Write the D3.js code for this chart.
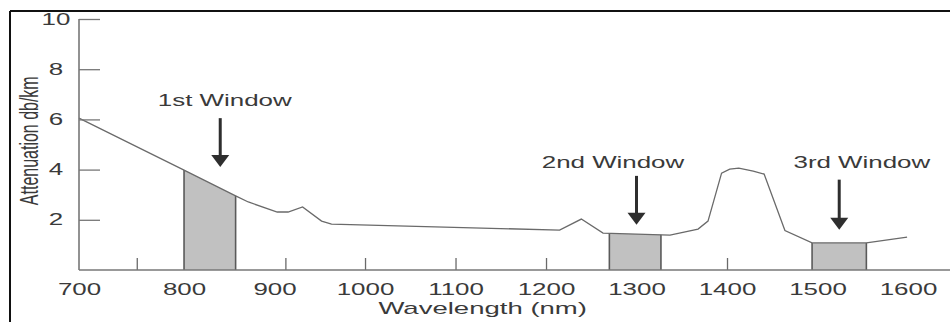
<!DOCTYPE html>
<html>
<head>
<meta charset="utf-8">
<script src="https://cdn.jsdelivr.net/npm/d3@7"></script>
<style>
  body { margin: 0; background: #fff; }
  text { font-family: "Liberation Sans", Arial, sans-serif; fill: #3a3a3a; }
</style>
</head>
<body>
<div id="chart"></div>
<script>
// attenuation curve
var wavelength  = [700, 800, 857, 871, 903, 915, 931, 952, 963, 1215, 1239, 1263, 1337, 1368, 1379, 1394, 1403, 1413, 1429, 1441, 1464, 1494, 1554, 1599];
var attenuation = [6.05, 3.98, 2.95, 2.71, 2.31, 2.31, 2.51, 1.95, 1.83, 1.59, 2.03, 1.47, 1.39, 1.63, 1.95, 3.86, 4.02, 4.06, 3.94, 3.82, 1.57, 1.08, 1.08, 1.31];

// transmission windows
var windowNames = ["1st Window", "2nd Window", "3rd Window"];
var windowStart = [800, 1270, 1494];
var windowEnd   = [857, 1327, 1554];
var arrowAt     = [840, 1300, 1524];
var arrowFrom   = [6.05, 3.75, 3.6];
var arrowTo     = [4.1, 1.8, 1.6];
var labelAt     = [845, 1274, 1549];
var labelLevel  = [6.53, 4.06, 4.06];

var xLabels = [700, 800, 900, 1000, 1100, 1200, 1300, 1400, 1500, 1600];
var xMarks  = [755, 912, 1000, 1100, 1200, 1400];
var yTicks  = [2, 4, 6, 8, 10];

var totalW = 950, totalH = 322;
var margin = {top: 19, right: 42, bottom: 52, left: 79};
var width = totalW - margin.left - margin.right,
    height = totalH - margin.top - margin.bottom;
var stretch = 1.62; // the figure's lettering is wide

var svg = d3.select("#chart").append("svg")
    .attr("width", totalW)
    .attr("height", totalH);

// frame: top and left rule
svg.append("line").attr("x1", 10).attr("x2", totalW).attr("y1", 11).attr("y2", 11)
    .attr("stroke", "#111").attr("stroke-width", 2);
svg.append("line").attr("x1", 10).attr("x2", 10).attr("y1", 11).attr("y2", totalH)
    .attr("stroke", "#111").attr("stroke-width", 2);

var g = svg.append("g").attr("transform", "translate(" + margin.left + "," + margin.top + ")");

// first 100 nm are drawn a bit wider than the rest, as in the figure
var x = d3.scaleLinear().domain([700, 800, 1600]).range([0, width * 0.1267, width]);
var y = d3.scaleLinear().domain([0, 10]).range([height, 0]);

var pts = wavelength.map(function(w, i){ return {w: w, a: attenuation[i]}; });

function attAt(w){
    var i = d3.bisectLeft(wavelength, w);
    if(i <= 0) return attenuation[0];
    if(i >= wavelength.length) return attenuation[attenuation.length - 1];
    var t = (w - wavelength[i-1]) / (wavelength[i] - wavelength[i-1]);
    return attenuation[i-1] + t * (attenuation[i] - attenuation[i-1]);
}

// shaded windows
var area = d3.area()
    .x(function(d){ return x(d.w); })
    .y0(y(0))
    .y1(function(d){ return y(d.a); });

windowNames.forEach(function(name, i){
    var s = windowStart[i], e = windowEnd[i];
    var poly = [{w: s, a: attAt(s)}]
        .concat(pts.filter(function(d){ return d.w > s && d.w < e; }))
        .concat([{w: e, a: attAt(e)}]);
    g.append("path").attr("d", area(poly)).attr("fill", "#c1c1c1");
    [s, e].forEach(function(w){
        g.append("line")
            .attr("x1", x(w)).attr("x2", x(w))
            .attr("y1", y(0)).attr("y2", y(attAt(w)))
            .attr("stroke", "#5a5a5a").attr("stroke-width", 1.6);
    });
});

// curve
var line = d3.line()
    .x(function(d){ return x(d.w); })
    .y(function(d){ return y(d.a); });
g.append("path").datum(pts)
    .attr("d", line)
    .attr("fill", "none")
    .attr("stroke", "#6a6a6a")
    .attr("stroke-width", 1.3);

// x axis: labels, then the small upward marks
var xLab = g.append("g").attr("transform", "translate(0," + height + ")")
    .call(d3.axisBottom(x).tickValues(xLabels).tickSize(0).tickPadding(14).tickFormat(d3.format("d")));
xLab.select(".domain").remove();
xLab.selectAll("text")
    .attr("transform", "scale(" + stretch + ",1)")
    .style("font-size", "16px")
    .attr("fill", "#3a3a3a");

var xTick = g.append("g").attr("transform", "translate(0," + height + ")")
    .call(d3.axisBottom(x).tickValues(xMarks).tickSize(-12).tickFormat(""));
xTick.select(".domain").remove();
xTick.selectAll("line").attr("stroke", "#6a6a6a").attr("stroke-width", 1.3);

g.append("line")
    .attr("x1", 0).attr("x2", totalW - margin.left)
    .attr("y1", height).attr("y2", height)
    .attr("stroke", "#777").attr("stroke-width", 1.6);

// y axis
var yTick = g.append("g")
    .call(d3.axisRight(y).tickValues(yTicks).tickSize(21).tickFormat(""));
yTick.select(".domain").remove();
yTick.selectAll("line").attr("stroke", "#777").attr("stroke-width", 1.3);

var yLab = g.append("g")
    .call(d3.axisLeft(y).tickValues(yTicks).tickSize(0).tickFormat(d3.format("d")));
yLab.select(".domain").remove();
yLab.selectAll("text")
    .attr("x", 0)
    .attr("text-anchor", "middle")
    .attr("transform", "translate(-23,0) scale(" + stretch + ",1)")
    .style("font-size", "16px")
    .attr("fill", "#3a3a3a");

g.append("line")
    .attr("x1", 0).attr("x2", 0)
    .attr("y1", y(0)).attr("y2", y(10))
    .attr("stroke", "#777").attr("stroke-width", 1.6);

// axis titles
svg.append("text")
    .attr("transform", "translate(" + (margin.left + x(1130)) + ",314) scale(" + stretch + ",1)")
    .attr("text-anchor", "middle")
    .style("font-size", "17px")
    .text("Wavelength (nm)");

svg.append("text")
    .attr("transform", "translate(29," + (margin.top + y(5.15)) + ") scale(" + stretch + ",1) rotate(-90)")
    .attr("text-anchor", "middle")
    .attr("dy", "0.35em")
    .style("font-size", "16px")
    .text("Attenuation db/km");

// window labels and arrows
windowNames.forEach(function(name, i){
    g.append("text")
        .attr("transform", "translate(" + x(labelAt[i]) + "," + y(labelLevel[i]) + ") scale(" + stretch + ",1)")
        .attr("text-anchor", "middle")
        .style("font-size", "16px")
        .text(name);

    var ax = x(arrowAt[i]), top = y(arrowFrom[i]), tip = y(arrowTo[i]);
    g.append("line")
        .attr("x1", ax).attr("x2", ax)
        .attr("y1", top).attr("y2", tip - 10)
        .attr("stroke", "#2e2e2e").attr("stroke-width", 3);
    g.append("path")
        .attr("d", "M" + (ax - 9) + "," + (tip - 12) + "L" + (ax + 9) + "," + (tip - 12) + "L" + ax + "," + tip + "Z")
        .attr("fill", "#2e2e2e");
});
</script>
</body>
</html>
